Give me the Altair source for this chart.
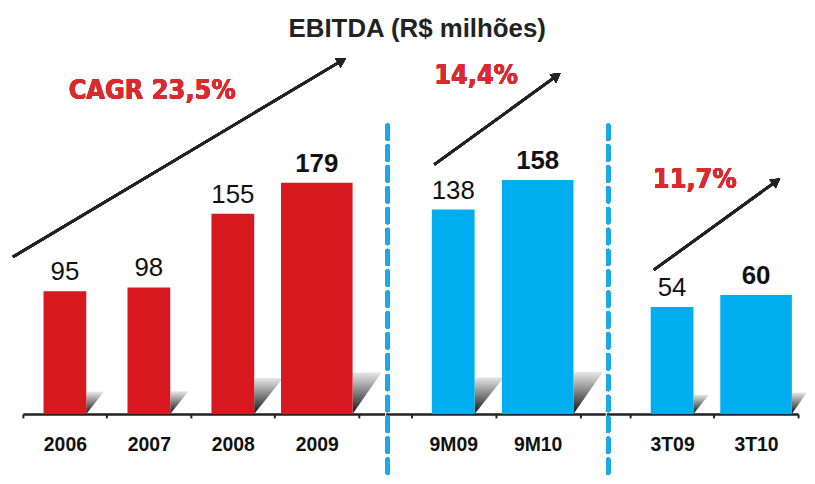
import math
import altair as alt
import pandas as pd

# ---------------- data ----------------
categorias = ["2006", "2007", "2008", "2009", "9M09", "9M10", "3T09", "3T10"]
ebitda = [95, 98, 155, 179, 138, 158, 54, 60]
grupos = ["Anual", "Anual", "Anual", "Anual", "9M", "9M", "3T", "3T"]
destaque = [False, False, False, True, False, True, False, True]
crescimento = ["CAGR 23,5%", "14,4%", "11,7%"]
titulo = "EBITDA (R$ milhões)"

df = pd.DataFrame({"cat": categorias, "valor": ebitda, "grupo": grupos, "destaque": destaque})

# ---------------- style ----------------
H = 365
FONT = "Liberation Sans, Arial, sans-serif"
FONT_C = "DejaVu Sans Condensed, Liberation Sans Narrow, Liberation Sans, sans-serif"
RED = "#d7181f"
BLUE = "#00adef"
TXT_RED = "#d92b2f"
DARK = "#222222"
DASH = "#1aa9e6"

grad = alt.LinearGradient(
    gradient="linear", x1=0, y1=0, x2=0, y2=1,
    stops=[alt.GradientStop(offset=0, color="#e8e8e8"),
           alt.GradientStop(offset=1, color="#111111")],
)


def arrow(x0, y0, x1, y1):
    dx, dy = x1 - x0, y1 - y0
    L = math.hypot(dx, dy)
    ux, uy = dx / L, dy / L
    ang = math.degrees(math.atan2(dx, -dy)) % 360
    line = alt.Chart(df).mark_rule(color=DARK, strokeWidth=2.5).encode(
        x=alt.value(x0), y=alt.value(y0),
        x2=alt.value(x1 - 6 * ux), y2=alt.value(y1 - 6 * uy))
    head = alt.Chart(df).mark_point(shape="triangle-up", filled=True, color=DARK,
                                    opacity=1, size=120, angle=ang).encode(
        x=alt.value(x1 - 4.7 * ux), y=alt.value(y1 - 4.7 * uy))
    return line + head


def painel(grupo, cor, largura, dmax, align, po, arw, texto, tpos, dashed):
    base = alt.Chart(df).transform_filter(alt.datum.grupo == grupo)
    x = alt.X("cat:N", sort=None, title=None,
              scale=alt.Scale(paddingInner=0, paddingOuter=po, align=align),
              axis=alt.Axis(labelFont=FONT, labelFontSize=19.5, labelFontWeight="bold",
                            labelColor="#111", labelAngle=0, labelPadding=18,
                            domainColor=DARK, domainWidth=2.5, tickColor=DARK,
                            tickWidth=2, tickSize=4, tickBand="extent"))
    y = alt.Y("valor:Q", axis=None, scale=alt.Scale(domain=[0, dmax]))
    k = H / dmax
    bars = base.mark_bar(color=cor).encode(
        x=x, y=y,
        size=alt.condition("datum.destaque", alt.value(72), alt.value(43)))
    sombra = base.transform_calculate(s=f"pow(0.18*{k}*datum.valor, 2)")
    sh_n = sombra.transform_filter("!datum.destaque").mark_point(
        shape="M0,0L0,-2L1.6,-2Z", filled=True, fill=grad, opacity=1,
        strokeWidth=0, xOffset=21.5).encode(
        x=x, y=alt.value(H), size=alt.Size("s:Q", scale=None))
    sh_w = sombra.transform_filter("datum.destaque").mark_point(
        shape="M0,0L0,-2L1.4,-2Z", filled=True, fill=grad, opacity=1,
        strokeWidth=0, xOffset=36).encode(
        x=x, y=alt.value(H), size=alt.Size("s:Q", scale=None))
    lab_n = base.transform_filter("!datum.destaque").mark_text(
        font=FONT, fontSize=26, dy=-11, baseline="alphabetic", color="#111").encode(
        x=x, y=y, text="valor:Q")
    lab_b = base.transform_filter("datum.destaque").mark_text(
        font=FONT, fontSize=26, fontWeight="bold", dy=-11, baseline="alphabetic",
        color="#111").encode(x=x, y=y, text="valor:Q")
    txt = alt.Chart(df).mark_text(
        font=FONT_C, fontSize=27, fontWeight="bold", color=TXT_RED,
        baseline="middle", align="center").encode(
        x=alt.value(tpos[0]), y=alt.value(tpos[1]), text=alt.value(texto))
    layers = [sh_n, sh_w, bars, lab_n, lab_b, arrow(*arw), txt]
    if dashed:
        rule = alt.Chart(df).mark_rule(color=DASH, strokeWidth=4.5,
                                       strokeDash=[13, 8], strokeCap="round").encode(
            x=alt.value(2), x2=alt.value(2), y=alt.value(75), y2=alt.value(426))
        layers.append(rule)
    return alt.layer(*layers).properties(width=largura, height=H)


p1 = painel("Anual", RED, 364, 281, 0, 0.154, (-10, 207, 325, 7),
            crescimento[0], (130, 40), False)
p2 = painel("9M", BLUE, 221, 245, 0.5, 0.3, (49, 114, 176, 22),
            crescimento[1], (91, 25), True)
p3 = painel("3T", BLUE, 193, 183, 1, 0.142, (48, 220, 175, 128),
            crescimento[2], (89, 130), True)

chart = alt.hconcat(p1, p2, p3, spacing=0).properties(
    title=alt.TitleParams(text=titulo, font="Liberation Sans", fontSize=26,
                          fontWeight="bold", color=DARK, anchor="middle",
                          offset=9, dx=8),
    padding={"left": 3, "top": 7, "right": 0, "bottom": 0},
).configure_view(stroke=None)

chart.save("out.html", embed_options={"renderer": "svg", "actions": False})
